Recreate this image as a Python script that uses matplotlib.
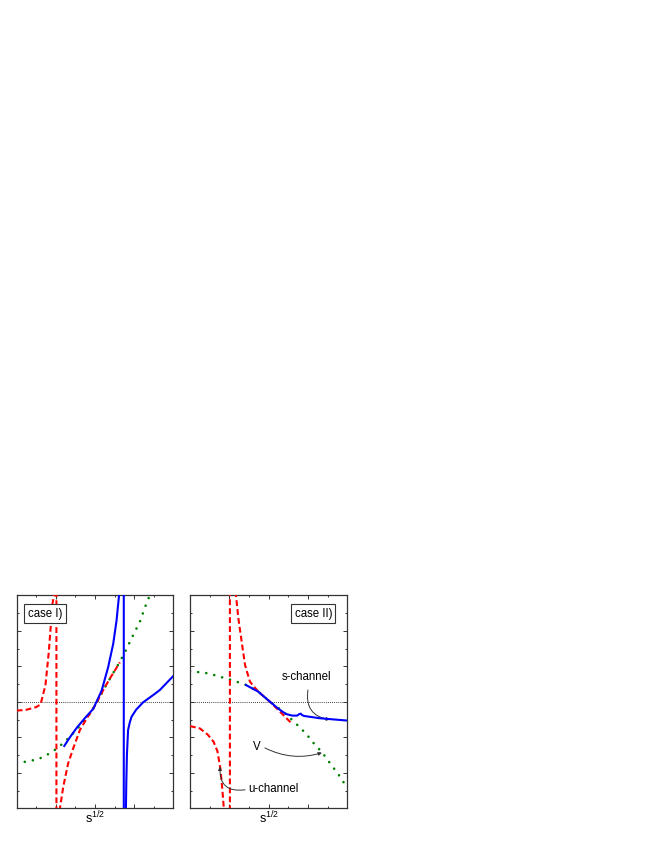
import matplotlib
matplotlib.use('Agg')
import matplotlib.pyplot as plt
import numpy as np

plt.rcParams['font.family'] = ['Liberation Sans', 'DejaVu Sans']
plt.rcParams['mathtext.fontset'] = 'custom'
plt.rcParams['mathtext.rm'] = 'Liberation Sans'
plt.rcParams['mathtext.it'] = 'Liberation Sans'

# ---- case I) (left panel) ----
# poles are drawn as a vertical connector (+big -> -big), like in the original plot
l_red_x = [0, 0.5, 1.0, 1.22, 1.47, 1.64, 1.73, 1.81, 1.9, 2.03, 2.03, 2.21, 2.38, 2.63, 2.89, 3.23,
           3.6, 4.0, 4.5, 4.85, 5.27]
l_red_y = [5.5, 5.55, 5.7, 5.85, 6.94, 8.8, 10.1, 11.4, 12.0, 30, -30, 0.0, 1.22, 2.53, 3.38, 4.41,
           5.1, 5.78, 6.82, 7.47, 8.22]

l_blue_x = [2.43, 2.72, 3.08, 3.5, 3.91, 4.34, 4.67, 4.93, 5.1, 5.22, 5.28, 5.47, 5.47, 5.56, 5.58,
            5.6, 5.63, 5.69, 5.78, 5.87, 6.1, 6.46, 7.0, 7.31, 8.0]
l_blue_y = [3.51, 4.0, 4.55, 5.1, 5.6, 6.63, 7.94, 9.26, 10.57, 11.9, 13.5, 30, -30, -3, 0.0,
            1.5, 3.0, 4.41, 4.85, 5.16, 5.55, 5.97, 6.4, 6.66, 7.45]

l_green_x = [0, 1.1, 1.79, 2.17, 2.72, 3.2, 3.6, 4.0, 4.5, 4.85, 5.27, 5.61, 5.95, 6.29, 6.63, 6.8]
l_green_y = [2.53, 2.76, 3.15, 3.47, 4.03, 4.6, 5.1, 5.78, 6.8, 7.47, 8.26, 8.97, 9.76, 10.5, 11.55, 12.0]

# ---- case II) (right panel) ----
r_red_x = [0, 0.5, 0.9, 1.2, 1.4, 1.55, 1.65, 1.72, 1.78, 2.03, 2.03, 2.3, 2.34, 2.46, 2.63, 2.8,
           3.05, 3.47, 4.07, 4.66, 5.17]
r_red_y = [4.63, 4.5, 4.15, 3.75, 3.2, 2.2, 1.0, 0.0, -3, -30, 30, 14, 12, 10.7, 9.38, 8.07,
           7.13, 6.57, 6.0, 5.35, 4.78]

r_blue_x = [2.85, 3.47, 4.07, 4.5, 4.88, 5.2, 5.45, 5.55, 5.63, 5.7, 5.8, 6.61, 8.0]
r_blue_y = [6.94, 6.57, 6.0, 5.6, 5.31, 5.22, 5.22, 5.3, 5.33, 5.25, 5.2, 5.07, 4.94]

r_green_x = [0, 0.93, 2.12, 2.88, 3.5, 4.07, 4.5, 4.88, 5.51, 5.93, 6.22, 6.53, 6.78, 7.04,
             7.29, 7.51, 7.77, 8.0]
r_green_y = [7.73, 7.6, 7.22, 6.94, 6.55, 6.0, 5.65, 5.31, 4.64, 4.17, 3.75, 3.38, 3.06, 2.66,
             2.29, 1.97, 1.54, 1.13]

panel_labels = ['case I)', 'case II)']
xlabel = r'$\mathregular{s^{1/2}}$'

RED = '#ff0000'
BLUE = '#0000ff'
GREEN = '#008000'


def setup_axes(ax):
	ax.set_xlim(0, 8)
	ax.set_ylim(0, 12)
	ax.set_xticks([2, 4, 6])
	ax.set_xticks([1, 3, 5, 7], minor=True)
	ax.set_yticks([2, 4, 6, 8, 10])
	ax.set_yticks([1, 3, 5, 7, 9, 11], minor=True)
	ax.tick_params(which='both', direction='in', top=True, right=True,
	               labelbottom=False, labelleft=False, width=0.7, color='#333333')
	ax.tick_params(which='major', length=3)
	ax.tick_params(which='minor', length=1.6)
	for sp in ax.spines.values():
		sp.set_linewidth(0.9)
		sp.set_color('#333333')
	ax.axhline(6, color='k', lw=0.6, ls=(0, (1, 1.5)), zorder=1)
	ax.set_xlabel(xlabel, fontsize=9, labelpad=1)


def draw_curves(ax, rx, ry, bx, by, gx, gy):
	ax.plot(gx, gy, color=GREEN, lw=1.9, dashes=(0.01, 3.1), dash_capstyle='round', zorder=2)
	ax.plot(rx, ry, color=RED, lw=1.5, dashes=(2.8, 1.5), zorder=3)
	ax.plot(bx, by, color=BLUE, lw=1.5, zorder=4)


fig = plt.figure(figsize=(6.54, 8.46), dpi=100)
ax1 = fig.add_axes([0.0255, 0.0446, 0.2395, 0.2518])
ax2 = fig.add_axes([0.2905, 0.0446, 0.2405, 0.2518])

for ax in (ax1, ax2):
	setup_axes(ax)

draw_curves(ax1, l_red_x, l_red_y, l_blue_x, l_blue_y, l_green_x, l_green_y)
draw_curves(ax2, r_red_x, r_red_y, r_blue_x, r_blue_y, r_green_x, r_green_y)

box = dict(boxstyle='square,pad=0.3', fc='white', ec='#333333', lw=0.8)
ax1.text(1.44, 10.95, panel_labels[0], ha='center', va='center', fontsize=8.3, bbox=box, zorder=6)
ax2.text(6.27, 10.95, panel_labels[1], ha='center', va='center', fontsize=8.3, bbox=box, zorder=6)

# annotations in right panel
arrow_kw = dict(arrowstyle='-|>', color='#333333', lw=0.7, mutation_scale=5, shrinkA=0, shrinkB=0)
ax2.text(5.95, 7.4, 's-channel', ha='center', va='center', fontsize=8.3)
ax2.annotate('', xy=(7.12, 5.0), xytext=(6.0, 6.66),
             arrowprops=dict(connectionstyle='arc3,rad=0.5', **arrow_kw))
ax2.text(3.4, 3.45, 'V', ha='center', va='center', fontsize=8.3)
ax2.annotate('', xy=(6.71, 3.13), xytext=(3.81, 3.4),
             arrowprops=dict(connectionstyle='arc3,rad=0.2', **arrow_kw))
ax2.text(2.95, 1.09, 'u-channel', ha='left', va='center', fontsize=8.3)
ax2.annotate('', xy=(1.53, 2.34), xytext=(2.8, 1.04),
             arrowprops=dict(connectionstyle='arc3,rad=-0.6', **arrow_kw))

fig.savefig('out.png', dpi=100)
